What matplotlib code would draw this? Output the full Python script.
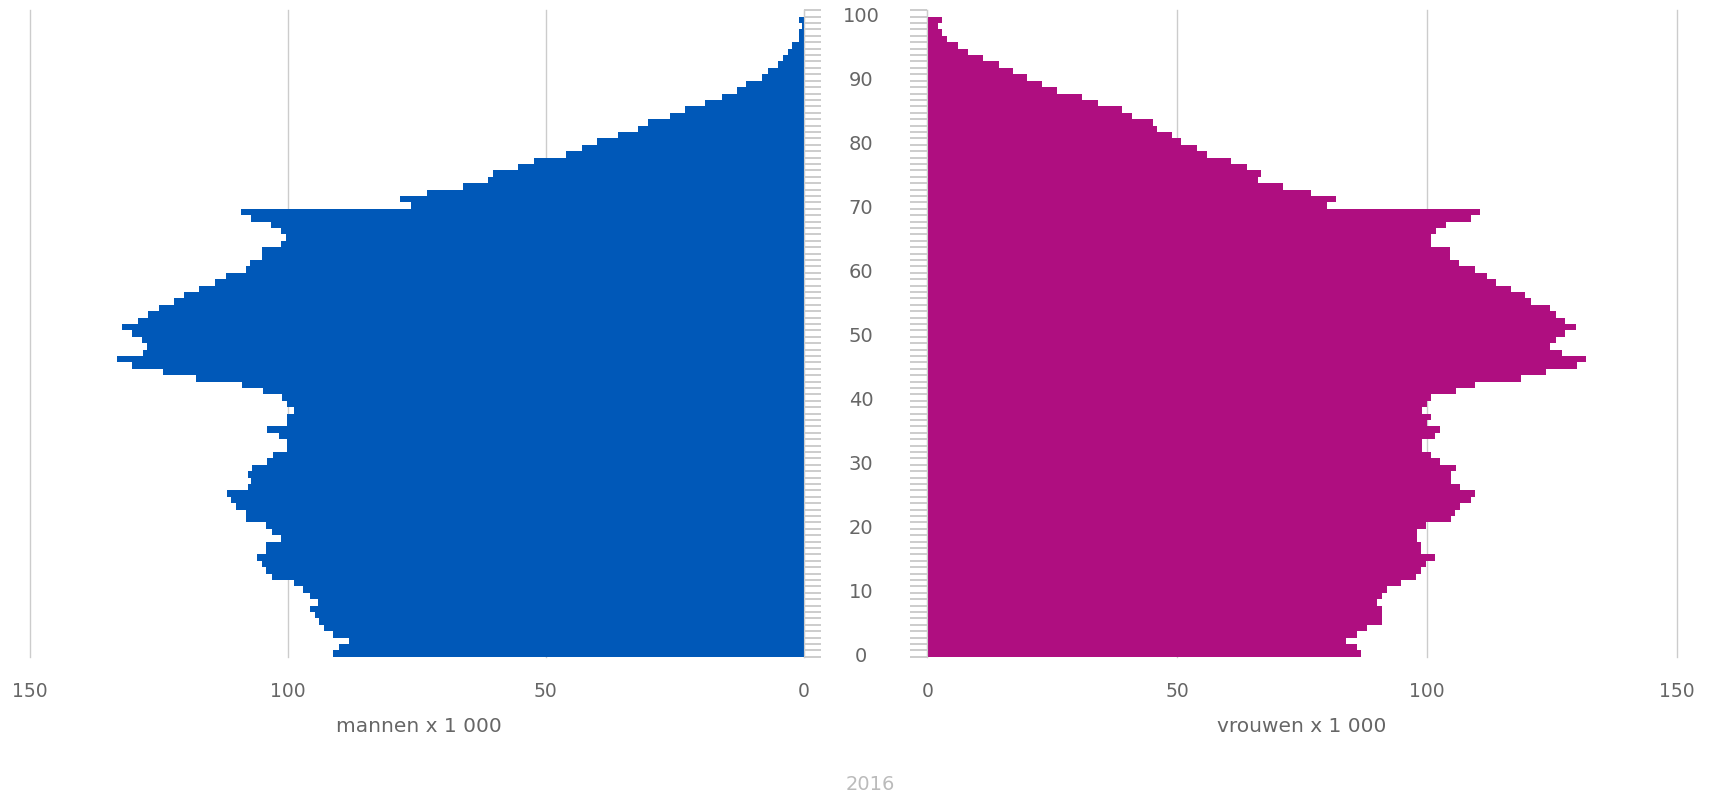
import numpy as np
import matplotlib
matplotlib.use("Agg")
import matplotlib.pyplot as plt
from matplotlib import transforms


# population per age, x 1000 (read from the 2016 pyramid)
ages = list(range(100))

men = [91.2, 90.0, 88.1, 91.2, 93.0, 93.9, 94.8, 95.8, 94.1, 95.8,
       97.0, 98.9, 103.1, 104.2, 105.1, 105.9, 104.2, 104.2, 101.4, 103.1,
       104.2, 108.1, 108.1, 110.0, 111.0, 111.8, 107.8, 107.1, 107.8, 107.0,
       104.1, 102.9, 100.1, 100.1, 101.8, 104.1, 100.1, 100.1, 98.9, 100.1,
       101.1, 104.8, 108.9, 117.8, 124.2, 130.2, 133.2, 128.0, 127.3, 128.2,
       130.2, 132.1, 129.1, 127.1, 124.9, 122.1, 120.2, 117.2, 114.2, 112.0,
       108.1, 107.4, 105.0, 105.0, 101.4, 100.3, 101.4, 103.2, 107.2, 109.0,
       76.1, 78.3, 73.0, 66.0, 61.3, 60.2, 55.3, 52.2, 46.0, 43.0,
       40.1, 36.0, 32.1, 30.1, 26.0, 23.1, 19.2, 15.9, 12.9, 11.1,
       8.0, 7.0, 5.0, 4.1, 3.0, 2.2, 1.0, 1.0, 0.3, 1.0]

women = [86.8, 86.0, 83.8, 86.0, 88.0, 90.9, 90.9, 90.9, 89.9, 90.9,
         91.9, 94.8, 97.9, 98.9, 99.9, 101.6, 98.9, 98.9, 98.0, 98.0,
         99.9, 104.8, 105.7, 106.6, 108.9, 109.7, 106.6, 104.8, 104.8, 105.8,
         102.7, 100.8, 99.0, 99.0, 101.6, 102.7, 100.0, 100.9, 99.1, 100.0,
         100.9, 105.9, 109.7, 118.9, 123.9, 130.0, 131.9, 127.0, 124.7, 125.8,
         127.6, 129.9, 127.6, 125.8, 124.6, 120.8, 119.6, 116.8, 113.8, 112.0,
         109.7, 106.5, 104.6, 104.6, 100.9, 100.9, 101.9, 103.9, 108.9, 110.7,
         80.0, 81.8, 76.8, 71.2, 66.2, 66.8, 63.9, 60.7, 55.9, 54.0,
         50.8, 48.9, 46.0, 45.2, 40.9, 39.0, 34.1, 30.9, 26.0, 23.0,
         19.9, 17.2, 14.3, 11.2, 8.1, 6.1, 4.0, 3.0, 2.2, 2.9]

age_labels = list(range(0, 101, 10))
x_ticks = [0, 50, 100, 150]

blue = "#0058b8"
magenta = "#af0e80"
grey = "#cccccc"
txt = "#666666"

plt.rcParams['font.family'] = ['DejaVu Sans']

fig = plt.figure(figsize=(17.15, 7.97), dpi=100)
ax_m = fig.add_axes([0.01749, 0.17603, 0.45114, 0.81185])
ax_f = fig.add_axes([0.5408, 0.17603, 0.43687, 0.81185])

for ax in (ax_m, ax_f):
    ax.set_ylim(-0.5, 100.6)
    for s in ax.spines.values():
        s.set_visible(False)
    ax.set_xticks(x_ticks)
    ax.xaxis.grid(True, color=grey, lw=1)
    ax.set_axisbelow(True)
    ax.tick_params(axis="x", length=0, pad=18, labelsize=13.5, labelcolor=txt)
    ax.set_yticks(np.arange(-0.5, 101, 1))
    ax.set_yticklabels([])

# men, left side (axis reversed)
ax_m.barh(ages, men, height=1.0, color=blue, lw=0)
ax_m.set_xlim(150, 0)
ax_m.spines["right"].set_visible(True)
ax_m.spines["right"].set_color(grey)
ax_m.yaxis.tick_right()
ax_m.tick_params(axis="y", direction="out", length=12.5, width=1.4, color=grey)

# women, right side
ax_f.barh(ages, women, height=1.0, color=magenta, lw=0)
ax_f.set_xlim(0, 150)
ax_f.spines["left"].set_visible(True)
ax_f.spines["left"].set_color(grey)
ax_f.yaxis.tick_left()
ax_f.tick_params(axis="y", direction="out", length=12.5, width=1.4, color=grey)

# keep the outer 150 gridlines from being clipped at the axes edge
for ax in (ax_m, ax_f):
    for gl in ax.get_xgridlines():
        gl.set_clip_on(False)

# age labels in the middle
trans = transforms.blended_transform_factory(fig.transFigure, ax_m.transData)
for a in age_labels:
    ax_m.text(0.502, a - 0.5, str(a), transform=trans, ha="center", va="center",
              fontsize=14, color=txt, clip_on=False)

fig.text(419 / 1715, 1 - 726 / 797, "mannen x 1 000", ha="center", va="center",
         fontsize=14.5, color=txt)
fig.text(1302 / 1715, 1 - 726 / 797, "vrouwen x 1 000", ha="center", va="center",
         fontsize=14.5, color=txt)
fig.text(870 / 1715, 1 - 784 / 797, "2016", ha="center", va="center",
         fontsize=14, color="#bbbbbb")

fig.savefig("out.png", dpi=100)
